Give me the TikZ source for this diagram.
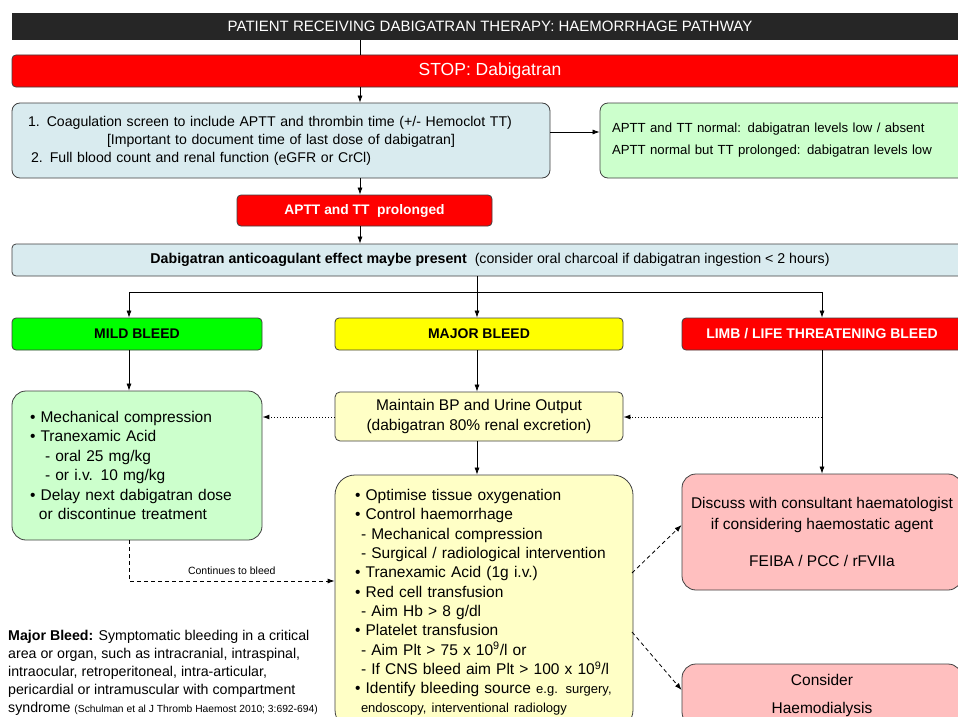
\documentclass[tikz,border=0pt]{standalone}
\usepackage{fontspec}
\setmainfont{Liberation Sans}
\usetikzlibrary{arrows.meta}
\definecolor{titlebk}{HTML}{262626}
\definecolor{stopred}{HTML}{FF0000}
\definecolor{lblue}{HTML}{D9EBEF}
\definecolor{lgreen}{HTML}{CCFFCC}
\definecolor{brgreen}{HTML}{00FF00}
\definecolor{yel}{HTML}{FFFF00}
\definecolor{lyel}{HTML}{FFFFC6}
\definecolor{pink}{HTML}{FFBFBF}
\definecolor{bord}{HTML}{404040}
\newcommand{\fs}[2]{\fontsize{#1}{#2}\selectfont}
\begin{document}
\begin{tikzpicture}[x=1pt,y=-1pt,
  box/.style={draw=bord, line width=0.8pt, inner sep=0pt, rounded corners=4pt},
  arr/.style={-{Latex[length=7pt,width=5pt]}, line width=0.7pt, black},
  dotarr/.style={-{Latex[length=7pt,width=5pt]}, line width=1pt, dotted, black},
  dasharr/.style={-{Latex[length=7pt,width=5pt]}, line width=0.8pt, dash pattern=on 4pt off 3pt, black},
  plain/.style={line width=0.7pt, black}]
\useasboundingbox (0,0) rectangle (958,717);
\clip (0,0) rectangle (958,717);
\fill[white] (0,0) rectangle (958,717);

% top bars
\node[fill=titlebk, text=white, minimum width=956pt, minimum height=27pt, inner sep=0pt, font=\fs{15}{17}] (title) at (490,26.5) {PATIENT RECEIVING DABIGATRAN THERAPY: HAEMORRHAGE PATHWAY};
\node[box, fill=stopred, text=white, minimum width=956pt, minimum height=32pt, font=\fs{17.5}{20}] (stop) at (490,71) {STOP: Dabigatran};

\node[box, fill=lblue, rounded corners=8pt, minimum width=538pt, minimum height=75pt, text width=506pt, align=left, font=\fs{14.1}{18}] (coag) at (281,140.5)
 {1. Coagulation screen to include APTT and thrombin time (+/- Hemoclot TT)\\
  \makebox[\hsize][c]{[Important to document time of last dose of dabigatran]}\\
  \hspace*{3pt}2. Full blood count and renal function (eGFR or CrCl)};

\node[box, fill=lgreen, rounded corners=8pt, minimum width=380pt, minimum height=75pt, text width=356pt, align=left, font=\fs{13.2}{22}] (norm) at (790,140.5)
 {APTT and TT normal: dabigatran levels low / absent\\
  APTT normal but TT prolonged: dabigatran levels low};

\node[box, fill=stopred, text=white, minimum width=255pt, minimum height=31pt, font=\bfseries\fs{13.8}{16}] (aptt) at (364.5,210.5) {APTT and TT\ \ prolonged};

\node[box, fill=lblue, minimum width=956pt, minimum height=32pt, font=\fs{14.2}{16}] (effect) at (490,260)
 {\textbf{Dabigatran anticoagulant effect maybe present}\ \ (consider oral charcoal if dabigatran ingestion < 2 hours)};

% headers
\node[box, fill=brgreen, minimum width=250pt, minimum height=32pt, font=\bfseries\fs{14}{16}] (mild) at (137,334) {MILD BLEED};
\node[box, fill=yel, minimum width=288pt, minimum height=32pt, font=\bfseries\fs{14}{16}] (major) at (479,334) {MAJOR BLEED};
\node[box, fill=stopred, text=white, minimum width=280pt, minimum height=32pt, font=\bfseries\fs{14}{16}] (limb) at (822,334) {LIMB / LIFE THREATENING BLEED};

% mild box
\node[box, fill=lgreen, rounded corners=14pt, minimum width=250pt, minimum height=149pt, inner xsep=18pt, text width=214pt, align=left, font=\fs{15.5}{19.5}] (mildbox) at (137,465.5)
 {\textbullet\ Mechanical compression\\
  \textbullet\ Tranexamic Acid\\
  \hspace*{15pt}- oral 25 mg/kg\\
  \hspace*{15pt}- or i.v. 10 mg/kg\\
  \textbullet\ Delay next dabigatran dose\\
  \hspace*{9pt}or discontinue treatment};

% maintain
\node[box, fill=lyel, rounded corners=5pt, minimum width=288pt, minimum height=49pt, align=center, font=\fs{15.5}{20}] (maint) at (479,416.5)
 {Maintain BP and Urine Output\\(dabigatran 80\% renal excretion)};

% major box
\node[box, fill=lyel, rounded corners=20pt, minimum width=298pt, minimum height=255pt, inner xsep=20pt, text width=258pt, align=left, font=\fs{15.5}{19.3}] (majbox) at (484,602.5)
 {\textbullet\ Optimise tissue oxygenation\\
  \textbullet\ Control haemorrhage\\
  \hspace*{6pt}- Mechanical compression\\
  \hspace*{6pt}- Surgical / radiological intervention\\
  \textbullet\ Tranexamic Acid (1g i.v.)\\
  \textbullet\ Red cell transfusion\\
  \hspace*{6pt}- Aim Hb > 8 g/dl\\
  \textbullet\ Platelet transfusion\\
  \hspace*{6pt}- Aim Plt > 75 x 10\textsuperscript{9}/l or\\
  \hspace*{6pt}- If CNS bleed aim Plt > 100 x 10\textsuperscript{9}/l\\
  \textbullet\ Identify bleeding source {\fs{13}{19.3}e.g. surgery,}\\
  \hspace*{6pt}{\fs{13}{19.3}endoscopy, interventional radiology}};

% right boxes
\node[box, fill=pink, rounded corners=14pt, minimum width=280pt, minimum height=116pt, align=center, font=\fs{15.5}{20.5}] (discuss) at (822,532)
 {Discuss with consultant haematologist\\if considering haemostatic agent\\[17pt]FEIBA / PCC / rFVIIa};
\node[box, fill=pink, rounded corners=14pt, minimum width=280pt, minimum height=62pt, align=center, font=\fs{15.5}{28}] (consider) at (822,695)
 {Consider\\Haemodialysis};

% footnote
\node[anchor=north west, inner sep=0pt, align=left, font=\fs{14.2}{18}] (note) at (8,630)
 {\textbf{Major Bleed:} Symptomatic bleeding in a critical\\
  area or organ, such as intracranial, intraspinal,\\
  intraocular, retroperitoneal, intra-articular,\\
  pericardial or intramuscular with compartment\\
  syndrome {\fs{10.3}{18}(Schulman et al J Thromb Haemost 2010; 3:692-694)}};

% connectors
\draw[plain] (title.south -| 360,0) -- (stop.north -| 360,0);
\draw[arr] (stop.south -| 360,0) -- (coag.north -| 360,0);
\draw[arr] (coag.south -| 360,0) -- (aptt.north -| 360,0);
\draw[arr] (aptt.south -| 360,0) -- (effect.north -| 360,0);
\draw[arr] (coag.east |- 0,132) -- (norm.west |- 0,132);

\coordinate (br) at (477,292);
\draw[plain] (effect.south -| br) -- (br);
\draw[plain] (129,292) -- (822,292);
\draw[arr] (129,292) -- (mild.north -| 129,0);
\draw[arr] (477,292) -- (major.north -| 477,0);
\draw[arr] (822,292) -- (limb.north -| 822,0);

\draw[arr] (mild.south -| 129,0) -- (mildbox.north -| 129,0);
\draw[arr] (major.south -| 477,0) -- (maint.north -| 477,0);
\draw[arr] (limb.south -| 822,0) -- (discuss.north -| 822,0);
\draw[arr] (maint.south -| 477,0) -- (majbox.north -| 477,0);

\coordinate (lj) at (822,417);
\draw[dotarr] (maint.west |- 0,417) -- (mildbox.east |- 0,417);
\draw[dotarr] (lj) -- (maint.east |- 0,417);

\coordinate (cb) at (129,581);
\draw[dasharr] (mildbox.south -| cb) -- (cb) -- (majbox.west |- cb)
  node[pos=0.5, above=3pt, font=\fs{10.5}{12}, text=black] (cont) {Continues to bleed};

\draw[dasharr] (632,573) -- (discuss.west |- 0,525);
\draw[dasharr] (632,632) -- (consider.west |- 0,690);
\end{tikzpicture}
\end{document}
